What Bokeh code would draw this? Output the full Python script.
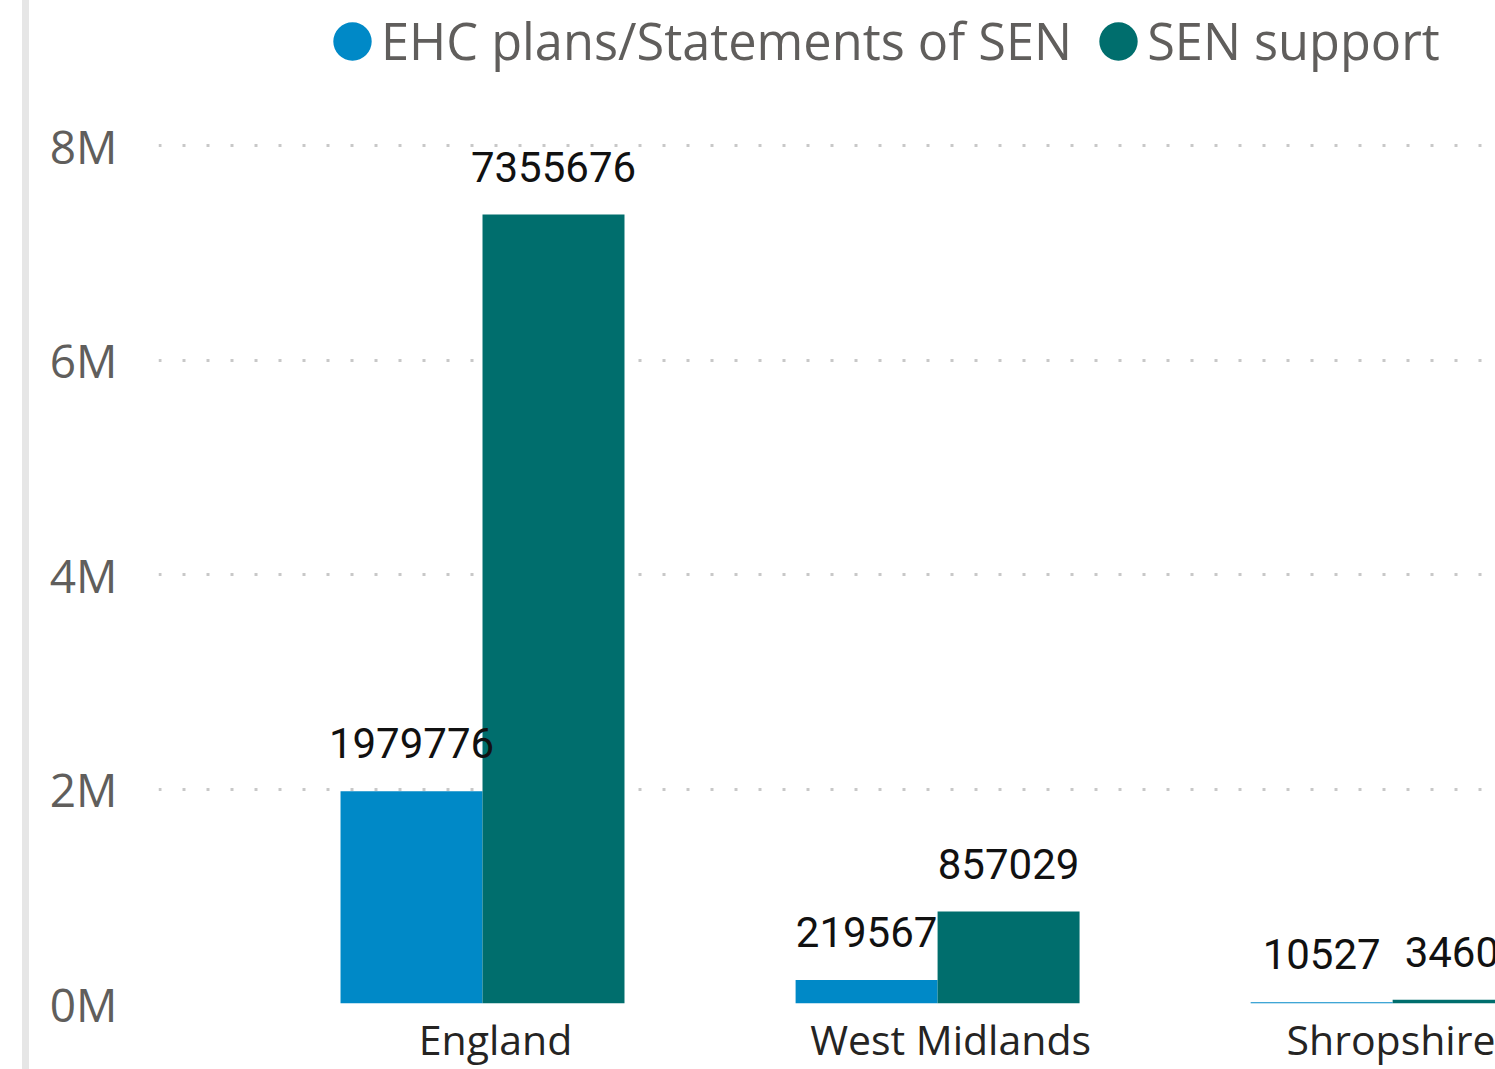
from bokeh.plotting import figure
from bokeh.models import (ColumnDataSource, FixedTicker, Legend, LegendItem, Range1d, Div, Spacer)
from bokeh.layouts import row
from bokeh.core.properties import value
from bokeh.embed import file_html
from bokeh.resources import INLINE

categories = ["England", "West Midlands", "Shropshire"]
ehc_plans = [1979776, 219567, 10527]
sen_support = [7355676, 857029, 34600]
y_ticks = [0, 2000000, 4000000, 6000000, 8000000]
y_tick_labels = ["0M", "2M", "4M", "6M", "8M"]
series_names = ["EHC plans/Statements of SEN", "SEN support"]
colors = ["#0089C7", "#006E6D"]

bar_w = 0.312
idx = list(range(len(categories)))
src = ColumnDataSource(dict(
    x_ehc=[i - bar_w / 2 for i in idx],
    x_sen=[i + bar_w / 2 for i in idx],
    ehc=ehc_plans,
    sen=sen_support,
    ehc_lbl=[str(v) for v in ehc_plans],
    sen_lbl=[str(v) for v in sen_support],
))

p = figure(width=1466, height=1069, output_backend="svg", toolbar_location=None,
           x_range=Range1d(-0.712, 2.226), y_range=Range1d(0, 9352000),
           min_border_left=129, min_border_right=0, min_border_top=0, min_border_bottom=66)
p.outline_line_color = None
p.background_fill_color = "white"
p.border_fill_color = "white"

p.xgrid.visible = False
p.ygrid.ticker = FixedTicker(ticks=y_ticks)
p.ygrid.grid_line_color = "#C8C8C8"
p.ygrid.grid_line_width = 3
p.ygrid.grid_line_dash = "3 21"

r1 = p.vbar(x="x_ehc", top="ehc", width=bar_w, bottom=0, source=src,
            fill_color=colors[0], line_color=None)
r2 = p.vbar(x="x_sen", top="sen", width=bar_w, bottom=0, source=src,
            fill_color=colors[1], line_color=None)

lbl_font = value("Roboto")
p.text(x="x_ehc", y="ehc", text="ehc_lbl", source=src, text_align="center",
       text_baseline="alphabetic", y_offset=-48, text_font=lbl_font,
       text_font_size="42px", text_color="#111111")
p.text(x="x_sen", y="sen", text="sen_lbl", source=src, text_align="center",
       text_baseline="alphabetic", y_offset=-48, text_font=lbl_font,
       text_font_size="42px", text_color="#111111")

# legend markers (circles) drawn off-range, shown only in the legend
c1 = p.ellipse(x=[-10], y=[0], width=10, height=10, width_units="screen", height_units="screen",
               fill_color=colors[0], line_color=None)
c2 = p.ellipse(x=[-10], y=[0], width=10, height=10, width_units="screen", height_units="screen",
               fill_color=colors[1], line_color=None)
legend = Legend(items=[LegendItem(label=series_names[0], renderers=[c1]),
                       LegendItem(label=series_names[1], renderers=[c2])],
                orientation="horizontal", location=(170, 928),
                glyph_width=48, glyph_height=48, label_standoff=5, spacing=22,
                padding=0, margin=0, border_line_color=None, background_fill_alpha=0,
                label_text_font="Open Sans", label_text_font_size="50.5px",
                label_text_color="#605E5C")
p.add_layout(legend)

# y axis
p.yaxis.ticker = FixedTicker(ticks=y_ticks)
p.yaxis.major_label_overrides = {t: l for t, l in zip(y_ticks, y_tick_labels)}
p.yaxis.axis_line_color = None
p.yaxis.major_tick_line_color = None
p.yaxis.minor_tick_line_color = None
p.yaxis.major_label_standoff = 35
p.yaxis.major_label_text_font = "Open Sans"
p.yaxis.major_label_text_font_size = "46px"
p.yaxis.major_label_text_color = "#605E5C"

# x axis
shift = 13 / 455
xt = [i + shift for i in idx]
p.xaxis.ticker = FixedTicker(ticks=xt)
p.xaxis.major_label_overrides = {t: c for t, c in zip(xt, categories)}
p.xaxis.axis_line_color = None
p.xaxis.major_tick_line_color = None
p.xaxis.minor_tick_line_color = None
p.xaxis.major_label_standoff = 1
p.xaxis.major_label_text_font = "Open Sans"
p.xaxis.major_label_text_font_size = "41px"
p.xaxis.major_label_text_color = "#252423"

bar = Div(text="", width=7, height=1069, margin=0, styles={"background-color": "#E6E6E6"})
layout = row(Spacer(width=22, height=1069), bar, p)

open("out.html", "w").write(file_html(layout, INLINE))
